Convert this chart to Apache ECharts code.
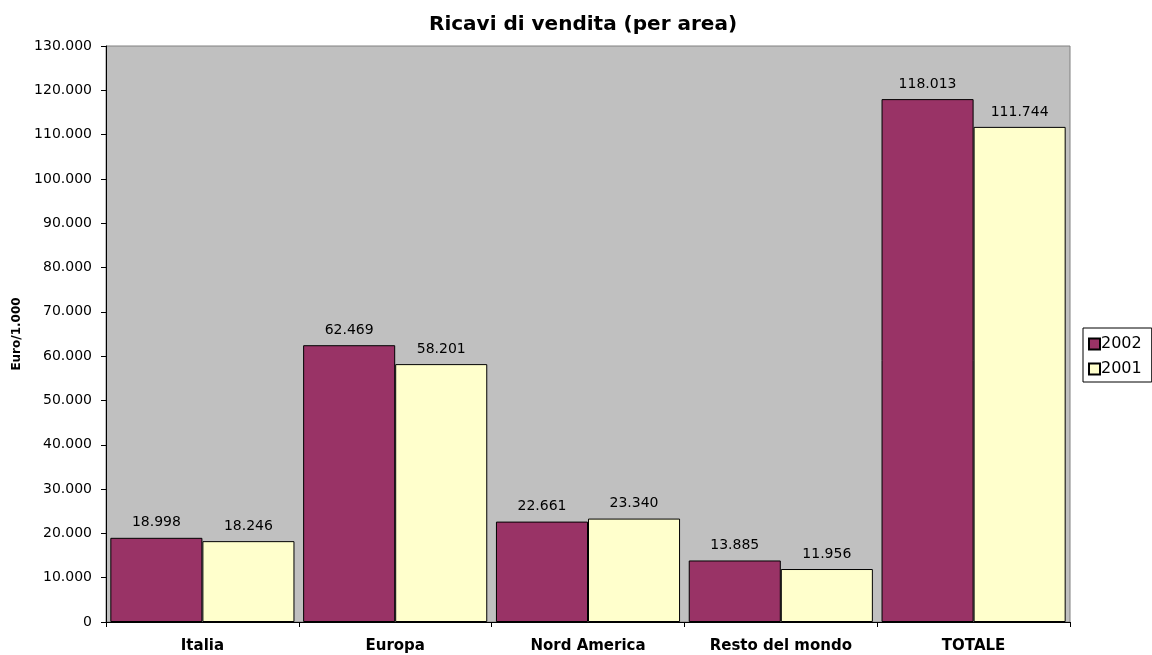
<!DOCTYPE html>
<html>
<head>
<meta charset="utf-8">
<script src="https://cdn.jsdelivr.net/npm/echarts@6/dist/echarts.min.js"></script>
<style>
  html, body { margin: 0; padding: 0; background: #fff; }
  #container { width: 1152px; height: 655px; }
</style>
</head>
<body>
<div id="container"></div>
<script>
var categories = ["Italia", "Europa", "Nord America", "Resto del mondo", "TOTALE"];
var years = ["2002", "2001"];
var values2002 = [18998, 62469, 22661, 13885, 118013];
var values2001 = [18246, 58201, 23340, 11956, 111744];
var colors = ["#993366", "#FFFFCC"];

// 12345 -> "12.345"
function fmt(v) {
    return String(v).replace(/\B(?=(\d{3})+(?!\d))/g, ".");
}

var font = "DejaVu Sans, Liberation Sans, sans-serif";

var myChart = echarts.init(document.getElementById("container"));
myChart.setOption({
    animation: false,
    textStyle: { fontFamily: font },
    title: {
        text: "Ricavi di vendita (per area)",
        left: 578, top: 10, textAlign: "center",
        textStyle: { fontSize: 20, fontWeight: "bold", color: "#000", fontFamily: font }
    },
    legend: {
        orient: "vertical",
        left: 1083, top: 328,
        data: years,
        icon: "rect",
        itemWidth: 11, itemHeight: 11, itemGap: 9,
        borderColor: "#000", borderWidth: 1,
        padding: [8, 10, 5, 5],
        textStyle: { fontSize: 16, color: "#000", fontFamily: font, padding: [0, 0, 0, -4] }
    },
    grid: {
        left: 106, right: 82, top: 46, bottom: 33,
        show: true, backgroundColor: "#C0C0C0", borderColor: "#808080", borderWidth: 1
    },
    xAxis: {
        type: "category",
        data: categories,
        axisLine: { lineStyle: { color: "#000" } },
        axisTick: { show: true, length: 5, inside: false, lineStyle: { color: "#000" } },
        axisLabel: { fontSize: 15, fontWeight: "bold", color: "#000", margin: 17 }
    },
    yAxis: {
        type: "value",
        min: 0, max: 130000, interval: 10000,
        name: "Euro/1.000",
        nameLocation: "middle",
        nameGap: 80,
        nameTextStyle: { fontSize: 12, fontWeight: "bold", color: "#000" },
        axisLine: { show: true, lineStyle: { color: "#000" } },
        axisTick: { show: true, length: 5, lineStyle: { color: "#000" } },
        splitLine: { show: false },
        axisLabel: { fontSize: 14, color: "#000", margin: 14, formatter: fmt }
    },
    series: [
        {
            name: years[0], type: "bar", data: values2002,
            barGap: "0%", barCategoryGap: "4.5%",
            itemStyle: { color: colors[0], borderColor: "#000", borderWidth: 1 },
            label: { show: true, position: "top", distance: 8, fontSize: 14, color: "#000", formatter: function (p) { return fmt(p.value); } }
        },
        {
            name: years[1], type: "bar", data: values2001,
            barGap: "0%", barCategoryGap: "4.5%",
            itemStyle: { color: colors[1], borderColor: "#000", borderWidth: 1 },
            label: { show: true, position: "top", distance: 8, fontSize: 14, color: "#000", formatter: function (p) { return fmt(p.value); } }
        }
    ]
});
</script>
</body>
</html>
